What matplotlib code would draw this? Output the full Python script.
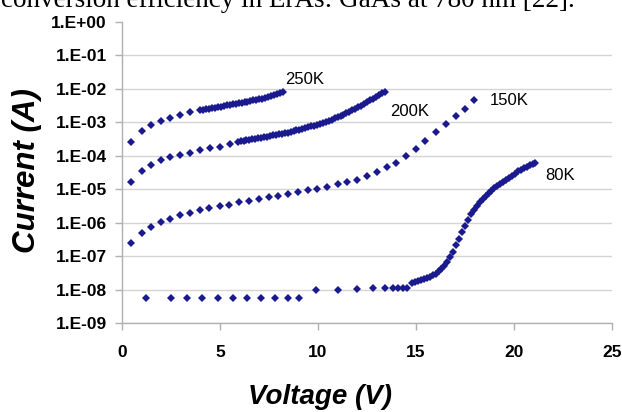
import numpy as np
import matplotlib
matplotlib.use('Agg')
import matplotlib.pyplot as plt

# I-V curves at several temperatures (log10 of current)
v_250 = [0.46, 1.0, 1.48, 1.97, 2.45, 2.96, 3.47,
         4.0, 4.15, 4.3, 4.45, 4.6, 4.75, 4.9, 5.05, 5.2, 5.35, 5.5, 5.65, 5.8, 5.95,
         6.1, 6.25, 6.4, 6.55, 6.7, 6.85, 7.0, 7.15, 7.3, 7.45, 7.6, 7.75, 7.9, 8.05, 8.2]
logi_250 = [-3.58, -3.26, -3.09, -2.97, -2.88, -2.78, -2.70,
            -2.63, -2.62, -2.60, -2.59, -2.57, -2.56, -2.54, -2.53, -2.51, -2.49, -2.48, -2.46, -2.44, -2.43,
            -2.41, -2.39, -2.38, -2.36, -2.34, -2.33, -2.31, -2.29, -2.27, -2.25, -2.22, -2.19, -2.16, -2.13, -2.09]

v_200 = [0.46, 1.0, 1.48, 1.97, 2.45, 2.96, 3.47, 3.98, 4.49, 5.0, 5.51,
         5.9, 6.05, 6.2, 6.35, 6.5, 6.65, 6.8, 6.95, 7.1, 7.25, 7.4, 7.55, 7.7, 7.85,
         8.0, 8.15, 8.3, 8.45, 8.6, 8.75, 8.9, 9.05, 9.2, 9.35, 9.5, 9.65, 9.8, 9.95,
         10.1, 10.25, 10.4, 10.55, 10.7, 10.85, 11.0, 11.15, 11.3, 11.45, 11.6, 11.75,
         11.9, 12.05, 12.2, 12.35, 12.5, 12.65, 12.8, 12.95, 13.1, 13.25, 13.4]
logi_200 = [-4.78, -4.46, -4.29, -4.13, -4.05, -3.98, -3.91, -3.83, -3.76, -3.73, -3.65,
            -3.58, -3.57, -3.55, -3.54, -3.52, -3.51, -3.49, -3.48, -3.46, -3.45, -3.43, -3.41, -3.39, -3.38,
            -3.36, -3.34, -3.32, -3.31, -3.29, -3.27, -3.24, -3.22, -3.20, -3.17, -3.15, -3.12, -3.10, -3.07,
            -3.04, -3.01, -2.98, -2.95, -2.92, -2.88, -2.85, -2.81, -2.77, -2.73, -2.69, -2.64,
            -2.60, -2.55, -2.50, -2.44, -2.40, -2.34, -2.29, -2.23, -2.18, -2.13, -2.09]

v_150 = [0.46, 1.0, 1.48, 1.97, 2.45, 2.96, 3.47, 3.98, 4.46, 5.0, 5.48, 5.99,
         6.46, 7.01, 7.48, 7.96, 8.45, 9.0, 9.47, 9.97, 10.46, 11.0, 11.46, 11.97,
         12.48, 13.0, 13.5, 13.98, 14.49, 14.98, 15.48, 16.0, 16.53, 17.02, 17.5, 17.98]
logi_150 = [-6.60, -6.30, -6.14, -5.98, -5.88, -5.77, -5.70, -5.63, -5.56, -5.50, -5.46, -5.38,
            -5.35, -5.29, -5.23, -5.19, -5.13, -5.09, -5.03, -4.99, -4.92, -4.85, -4.79, -4.73,
            -4.61, -4.48, -4.35, -4.23, -4.00, -3.79, -3.55, -3.30, -3.05, -2.81, -2.59, -2.34]

v_80 = [1.22, 2.5, 3.33, 4.1, 4.88, 5.65, 6.36, 7.11, 7.79, 8.45, 9.05,
        9.9, 11.04, 12.0, 12.82, 13.42, 13.81, 14.1, 14.35, 14.53,
        14.8, 14.95, 15.1, 15.25, 15.4, 15.55, 15.7, 15.85, 16.0, 16.15, 16.3, 16.45,
        16.6, 16.75, 16.9, 17.05, 17.2, 17.35, 17.5, 17.65, 17.8, 17.95, 18.1, 18.25,
        18.4, 18.55, 18.7, 18.85, 19.0, 19.15, 19.3, 19.45, 19.6, 19.75, 19.9, 20.05,
        20.2, 20.35, 20.5, 20.65, 20.8, 20.95, 21.05]
logi_80 = [-8.25, -8.25, -8.25, -8.25, -8.25, -8.25, -8.25, -8.25, -8.25, -8.25, -8.25,
           -8.01, -8.01, -7.97, -7.96, -7.96, -7.95, -7.95, -7.95, -7.95,
           -7.80, -7.78, -7.75, -7.72, -7.69, -7.65, -7.61, -7.57, -7.52, -7.46, -7.39, -7.30,
           -7.18, -7.04, -6.87, -6.68, -6.48, -6.28, -6.09, -5.91, -5.75, -5.61, -5.49, -5.38,
           -5.28, -5.20, -5.12, -5.05, -4.97, -4.91, -4.84, -4.77, -4.71, -4.65, -4.59, -4.53,
           -4.47, -4.42, -4.38, -4.33, -4.29, -4.26, -4.23]

series = [(v_250, logi_250), (v_200, logi_200), (v_150, logi_150), (v_80, logi_80)]

# curve labels: text, voltage, log10 current
labels = ['250K', '200K', '150K', '80K']
label_v = [8.32, 13.67, 18.78, 21.59]
label_logi = [-1.72, -2.69, -2.34, -4.60]

ytick_vals = [1e-9, 1e-8, 1e-7, 1e-6, 1e-5, 1e-4, 1e-3, 1e-2, 1e-1, 1e0]
ytick_text = ['1.E-09', '1.E-08', '1.E-07', '1.E-06', '1.E-05',
              '1.E-04', '1.E-03', '1.E-02', '1.E-01', '1.E+00']
xtick_vals = [0, 5, 10, 15, 20, 25]

plt.rcParams['font.family'] = ['Liberation Sans', 'DejaVu Sans']
mark_col = '#1a1a8e'
grid_col = '#d4d4d4'

fig = plt.figure(figsize=(6.22, 4.12), dpi=100)
ax = fig.add_axes([122/622, 1-323/412, 490/622, 301/412])

for v, li in series:
    ax.plot(v, 10**np.array(li), linestyle='none', marker='D', markersize=4.3,
            color=mark_col, markeredgewidth=0)

for t, xv, lv in zip(labels, label_v, label_logi):
    ax.text(xv, 10**lv, t, fontsize=12, ha='left', va='center', color='black')

ax.set_yscale('log')
ax.set_xlim(0, 25)
ax.set_ylim(1e-9, 1)
ax.set_yticks(ytick_vals)
ax.set_yticklabels(ytick_text)
ax.yaxis.set_minor_locator(matplotlib.ticker.NullLocator())
ax.set_xticks(xtick_vals)

for lab in ax.get_yticklabels() + ax.get_xticklabels():
    lab.set_fontweight('bold')
    lab.set_fontsize(12.5)

ax.yaxis.grid(True, color=grid_col, linewidth=1)
ax.get_ygridlines()[-1].set_visible(False)
ax.tick_params(axis='y', length=5, width=1, color='#b0b0b0', pad=6)
ax.tick_params(axis='x', length=5, width=1, color='#b0b0b0', pad=11)
for s in ['top', 'right']:
    ax.spines[s].set_visible(False)
for s in ['left', 'bottom']:
    ax.spines[s].set_color('#b0b0b0')
    ax.spines[s].set_linewidth(1)

fig.text(27/622, 1-171/412, 'Current (A)', rotation=90, ha='center', va='center',
         fontsize=22.5, fontweight='bold', fontstyle='italic')
fig.text(320/622, 1-397/412, 'Voltage (V)', ha='center', va='center',
         fontsize=20, fontweight='bold', fontstyle='italic')

# caption from the page, cut off at the top edge
fig.text(1/622, 1-7/412, 'conversion efficiency in ErAs: GaAs at 780 nm [22].',
         ha='left', va='baseline', fontsize=19.5, family='Liberation Serif')

fig.savefig('out.png', dpi=100)
